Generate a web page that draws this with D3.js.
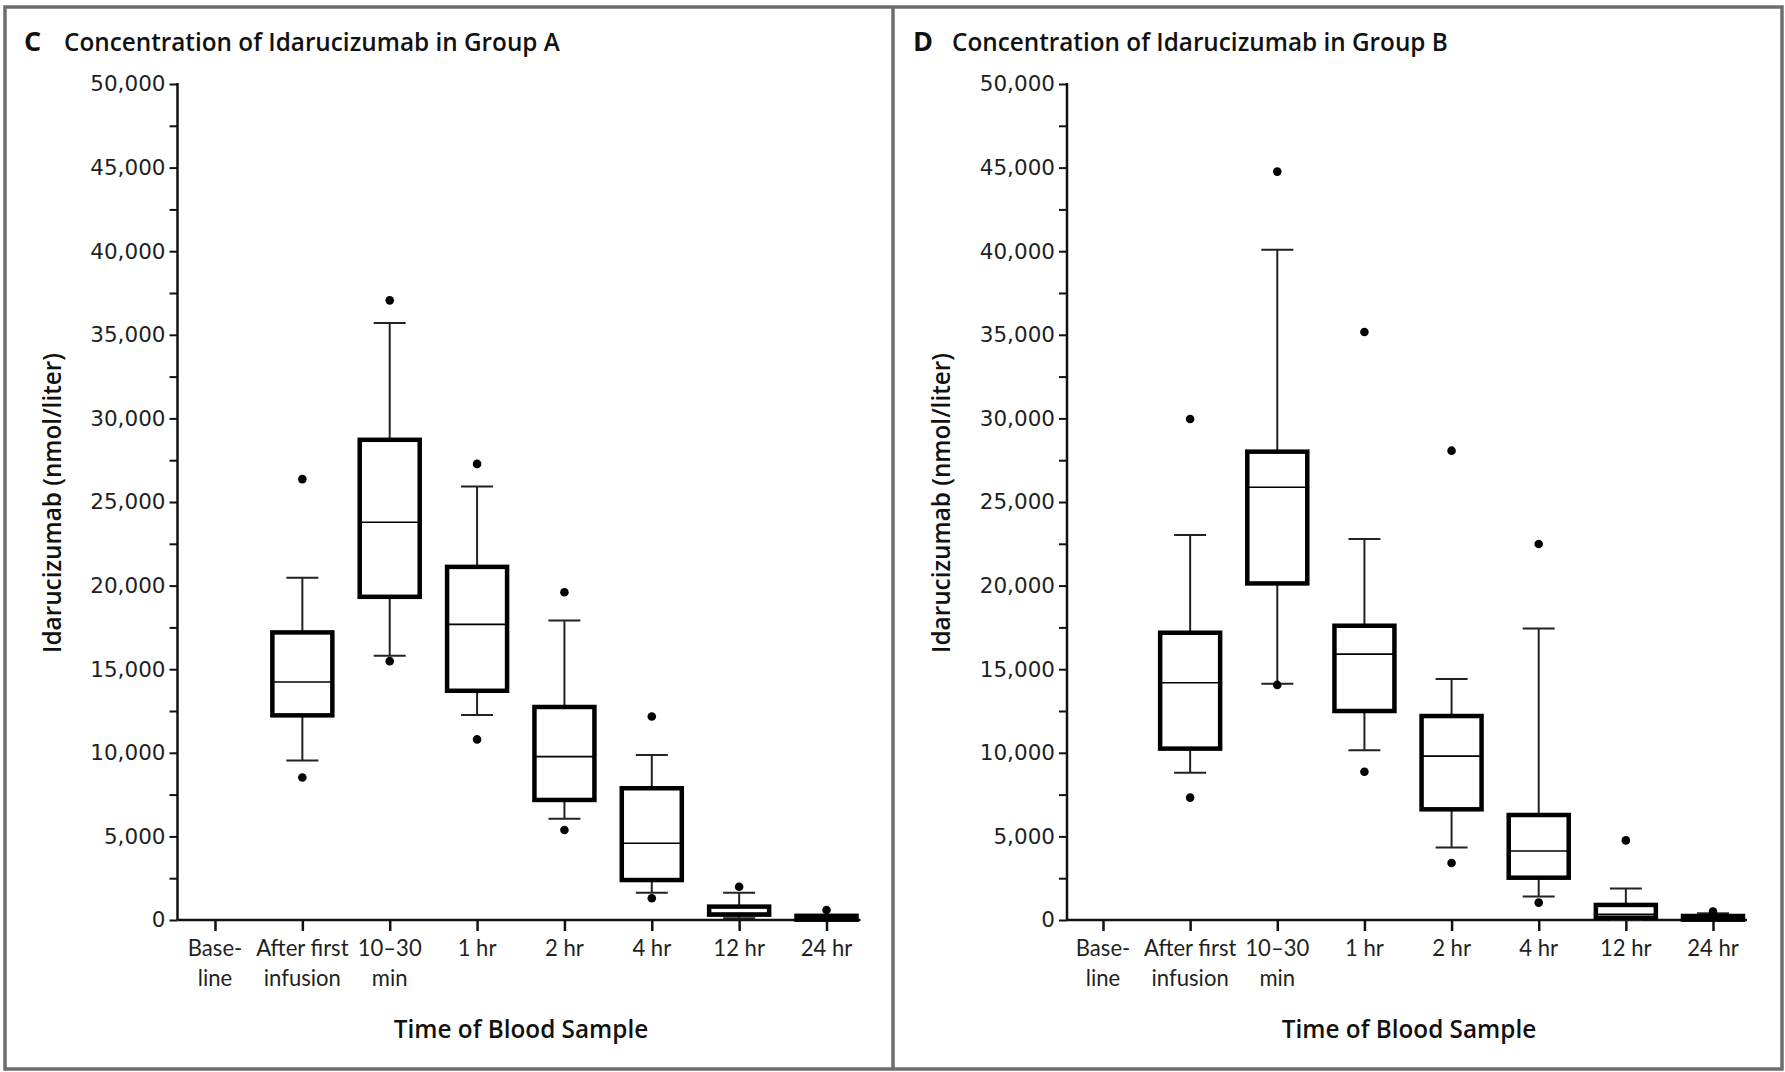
<!DOCTYPE html>
<html><head><meta charset="utf-8">
<script src="https://cdn.jsdelivr.net/npm/d3@7"></script>
<style>body{margin:0;background:#fff} svg{display:block}</style>
</head><body><svg id="chart" width="1785" height="1072"></svg>
<script>
// ---------- data ----------
const categories = ["Baseline", "After first infusion", "10–30 min", "1 hr", "2 hr", "4 hr", "12 hr", "24 hr"];
const tickLabels = [["Base-", "line"], ["After first", "infusion"], ["10–30", "min"], ["1 hr"], ["2 hr"], ["4 hr"], ["12 hr"], ["24 hr"]];
const yTickValues = [0, 5000, 10000, 15000, 20000, 25000, 30000, 35000, 40000, 45000, 50000];
const yMinorValues = [2500, 7500, 12500, 17500, 22500, 27500, 32500, 37500, 42500, 47500];

// Group A
const groupA_whiskerLow  = [null, 9540, 15800, 12260, 6060, 1630, 100, 0];
const groupA_q1          = [null, 12240, 19330, 13710, 7180, 2390, 320, 20];
const groupA_median      = [null, 14230, 23790, 17680, 9770, 4590, 400, 100];
const groupA_q3          = [null, 17200, 28720, 21120, 12740, 7880, 800, 250];
const groupA_whiskerHigh = [null, 20470, 35700, 25920, 17910, 9870, 1630, 250];
const groupA_outliers    = [[], [26370, 8520], [37060, 15480], [27280, 10800], [19600, 5380], [12170, 1300], [1990], [600]];

// Group B
const groupB_whiskerLow  = [null, 8800, 14130, 10150, 4330, 1400, 0, 0];
const groupB_q1          = [null, 10250, 20130, 12500, 6620, 2530, 140, 20];
const groupB_median      = [null, 14190, 25880, 15900, 9800, 4130, 340, 80];
const groupB_q3          = [null, 17180, 28010, 17600, 12200, 6280, 900, 240];
const groupB_whiskerHigh = [null, 23030, 40090, 22790, 14410, 17440, 1890, 400];
const groupB_outliers    = [[], [29960, 7320], [44760, 14060], [35170, 8870], [28070, 3410], [22490, 1040], [4760], [500]];

const titleFont = "'Open Sans', Lato, sans-serif";
const tickFont = "'DejaVu Sans', Verdana, sans-serif";
const catFont = "Lato, 'Open Sans', sans-serif";

const svg = d3.select("#chart");
svg.append("rect").attr("width", 1785).attr("height", 1072).attr("fill", "#fff");

// frame
svg.append("rect").attr("x", 5).attr("y", 7).attr("width", 1777).attr("height", 1062)
  .attr("fill", "none").attr("stroke", "#6d6d6d").attr("stroke-width", 3.5);
svg.append("line").attr("x1", 893).attr("x2", 893).attr("y1", 7).attr("y2", 1069)
  .attr("stroke", "#6d6d6d").attr("stroke-width", 3.5);

function panel(cfg) {
  const g = svg.append("g");
  const y = d3.scaleLinear().domain([0, 50000]).range([920, 84]);
  const x = d3.scalePoint().domain(categories).range([cfg.x0, cfg.x1]);

  // titles
  g.append("text").attr("x", cfg.letterX).attr("y", 51).text(cfg.letter)
    .attr("font-family", titleFont).attr("font-weight", 700).attr("font-size", 27).attr("fill", "#111");
  g.append("text").attr("x", cfg.titleX).attr("y", 51).text(cfg.title)
    .attr("font-family", titleFont).attr("font-weight", 600).attr("font-size", 24.3).attr("fill", "#111");

  // y axis
  const yAxis = d3.axisLeft(y).tickValues(yTickValues).tickSize(8).tickPadding(4)
    .tickFormat(d3.format(","));
  const ya = g.append("g").attr("transform", `translate(${cfg.axisX},0)`).call(yAxis);
  ya.select(".domain").remove();
  ya.selectAll(".tick line").attr("stroke", "#111").attr("stroke-width", 2);
  ya.selectAll(".tick text").attr("font-family", tickFont).attr("font-size", 21.5).attr("fill", "#231f20");
  const ym = g.append("g").attr("transform", `translate(${cfg.axisX},0)`)
    .call(d3.axisLeft(y).tickValues(yMinorValues).tickSize(8).tickFormat(""));
  ym.select(".domain").remove();
  ym.selectAll(".tick line").attr("stroke", "#111").attr("stroke-width", 2);
  g.append("line").attr("x1", cfg.axisX).attr("x2", cfg.axisX).attr("y1", y(50000) - 1).attr("y2", y(0))
    .attr("stroke", "#111").attr("stroke-width", 2.5);

  // x axis
  const xa = g.append("g").attr("transform", `translate(0,${y(0)})`)
    .call(d3.axisBottom(x).tickSize(11).tickFormat(""));
  xa.select(".domain").remove();
  xa.selectAll(".tick line").attr("stroke", "#111").attr("stroke-width", 2.5);
  g.append("line").attr("x1", cfg.axisX).attr("x2", cfg.x1 + 34).attr("y1", y(0)).attr("y2", y(0))
    .attr("stroke", "#111").attr("stroke-width", 2.5);

  // category labels
  categories.forEach((c, i) => {
    const t = g.append("text").attr("text-anchor", "middle")
      .attr("font-family", catFont).attr("font-size", 23).attr("fill", "#231f20")
      .attr("transform", `translate(${x(c)},0) scale(0.96,1)`);
    tickLabels[i].forEach((line, j) => {
      t.append("tspan").attr("x", 0).attr("y", 956 + j * 30).text(line);
    });
  });

  // axis titles
  g.append("text").attr("transform", `translate(${cfg.yLabelX},503) rotate(-90)`)
    .attr("text-anchor", "middle").text("Idarucizumab (nmol/liter)")
    .attr("font-family", titleFont).attr("font-weight", 600).attr("font-size", 24.3).attr("fill", "#111");
  g.append("text").attr("x", cfg.xTitleX).attr("y", 1038).attr("text-anchor", "middle")
    .text("Time of Blood Sample")
    .attr("font-family", titleFont).attr("font-weight", 600).attr("font-size", 24.3).attr("fill", "#111");

  // boxes
  const d = cfg.data;
  const boxW = 60, capW = 32;
  const rows = categories.map((c, i) => ({
    c, lo: d.lo[i], q1: d.q1[i], med: d.med[i], q3: d.q3[i], hi: d.hi[i], out: d.out[i]
  })).filter(r => r.q1 !== null);

  const bg = g.append("g");
  const sel = bg.selectAll("g.box").data(rows).join("g").attr("class", "box")
    .attr("transform", r => `translate(${x(r.c)},0)`);
  // whiskers
  sel.append("line").attr("x1", 0).attr("x2", 0).attr("y1", r => y(r.hi)).attr("y2", r => y(r.lo))
    .attr("stroke", "#222").attr("stroke-width", 2);
  sel.append("line").attr("x1", -capW / 2).attr("x2", capW / 2).attr("y1", r => y(r.hi)).attr("y2", r => y(r.hi))
    .attr("stroke", "#222").attr("stroke-width", 2);
  sel.append("line").attr("x1", -capW / 2).attr("x2", capW / 2).attr("y1", r => y(r.lo)).attr("y2", r => y(r.lo))
    .attr("stroke", "#222").attr("stroke-width", 2);
  // box
  sel.append("rect").attr("x", -boxW / 2).attr("width", boxW)
    .attr("y", r => y(r.q3)).attr("height", r => y(r.q1) - y(r.q3))
    .attr("fill", "#fff").attr("stroke", "#000").attr("stroke-width", 4.5);
  sel.append("line").attr("x1", -boxW / 2).attr("x2", boxW / 2).attr("y1", r => y(r.med)).attr("y2", r => y(r.med))
    .attr("stroke", "#000").attr("stroke-width", 1.6);
  // outliers
  sel.selectAll("circle").data(r => r.out).join("circle")
    .attr("cx", 0).attr("cy", v => y(v)).attr("r", 4.3).attr("fill", "#000");
}

panel({
  letter: "C", letterX: 24, titleX: 64, title: "Concentration of Idarucizumab in Group A",
  axisX: 177.5, x0: 215, x1: 826.5, yLabelX: 61, xTitleX: 521,
  data: { lo: groupA_whiskerLow, q1: groupA_q1, med: groupA_median, q3: groupA_q3, hi: groupA_whiskerHigh, out: groupA_outliers }
});
panel({
  letter: "D", letterX: 913, titleX: 952, title: "Concentration of Idarucizumab in Group B",
  axisX: 1067, x0: 1103, x1: 1713, yLabelX: 950, xTitleX: 1409,
  data: { lo: groupB_whiskerLow, q1: groupB_q1, med: groupB_median, q3: groupB_q3, hi: groupB_whiskerHigh, out: groupB_outliers }
});
</script></body></html>
